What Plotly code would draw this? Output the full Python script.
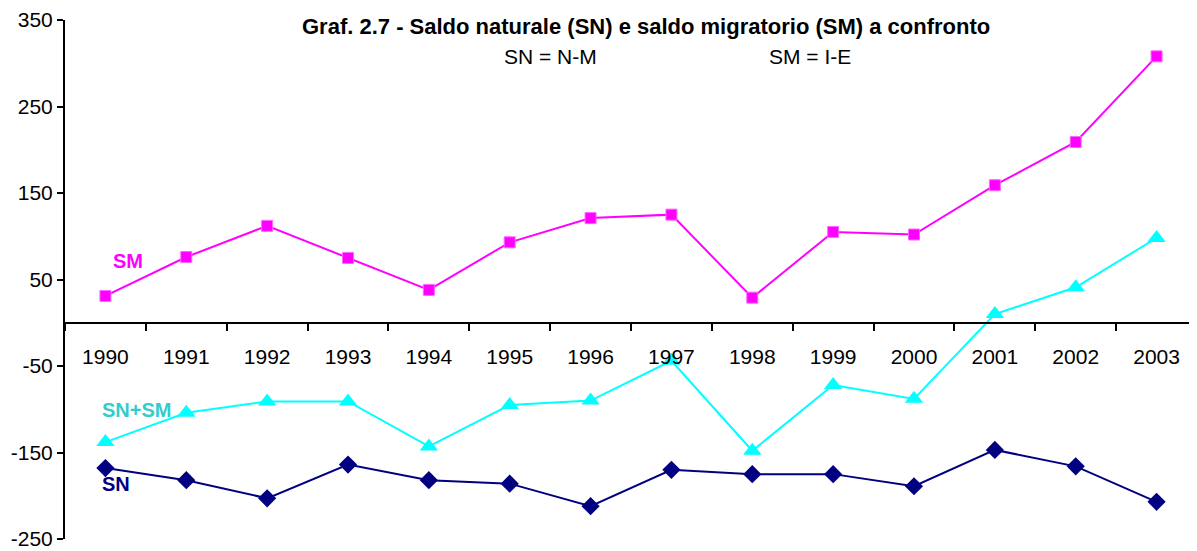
import plotly.graph_objects as go

years = ['1990', '1991', '1992', '1993', '1994', '1995', '1996',
         '1997', '1998', '1999', '2000', '2001', '2002', '2003']
sm = [31, 76, 112, 75, 38, 93, 121, 125, 29, 105, 102, 159, 209, 308]
sn_sm = [-138, -104, -91, -91, -143, -95, -90, -44, -148, -72, -88, 10, 41, 98]
sn = [-168, -182, -203, -164, -182, -186, -212, -170, -175, -175, -189, -147, -166, -207]
y_ticks = [-250, -150, -50, 50, 150, 250, 350]
y_labels = ['-250', '-150', '-50', '50', '150', '250', '350']

font = 'Liberation Sans, Arial, sans-serif'

fig = go.Figure()
fig.add_trace(go.Scatter(
    x=years, y=sm, mode='lines+markers', name='SM',
    line=dict(color='#FF00FF', width=2),
    marker=dict(symbol='square', size=11, color='#FF00FF',
                line=dict(color='#FF66FF', width=1))
))
fig.add_trace(go.Scatter(
    x=years, y=sn_sm, mode='lines+markers', name='SN+SM',
    line=dict(color='#00FFFF', width=2),
    marker=dict(symbol='triangle-up', size=16, color='#00FFFF')
))
fig.add_trace(go.Scatter(
    x=years, y=sn, mode='lines+markers', name='SN',
    line=dict(color='#000080', width=2),
    marker=dict(symbol='diamond', size=14, color='#000080')
))

# page body has an 8px margin, so the figure is sized/offset to compensate
fig.update_layout(
    width=1189, height=543,
    margin=dict(l=57, r=0, t=10, b=12),
    paper_bgcolor='white', plot_bgcolor='white',
    showlegend=False,
    font=dict(family=font, size=20, color='black'),
    xaxis=dict(
        type='category', range=[-0.5, len(years) - 0.5],
        anchor='free', position=250 / 600,
        showline=True, linecolor='black', linewidth=2,
        ticks='outside', tickson='boundaries', ticklen=7, tickwidth=2, tickcolor='black',
        ticklabelstandoff=15, tickangle=0,
        showgrid=False, zeroline=False,
        tickfont=dict(family=font, size=21),
    ),
    yaxis=dict(
        range=[-250, 350], tickvals=y_ticks, ticktext=y_labels,
        ticklabeloverflow='allow',
        showline=True, linecolor='black', linewidth=2,
        ticks='outside', ticklen=6, tickwidth=2, tickcolor='black',
        showgrid=False, zeroline=False,
        tickfont=dict(family=font, size=21),
    ),
)

fig.add_annotation(
    text='<b>Graf. 2.7 - Saldo naturale (SN) e saldo migratorio (SM) a confronto</b>',
    xref='paper', yref='paper', x=0.513, y=0.987, xanchor='center', yanchor='middle',
    showarrow=False, font=dict(family=font, size=22, color='black')
)
fig.add_annotation(text='SN = N-M', xref='paper', yref='paper', x=0.429, y=0.929,
                   yanchor='middle', showarrow=False,
                   font=dict(family=font, size=21, color='black'))
fig.add_annotation(text='SM = I-E', xref='paper', yref='paper', x=0.658, y=0.929,
                   yanchor='middle', showarrow=False,
                   font=dict(family=font, size=21, color='black'))

fig.add_annotation(text='<b>SM</b>', x=0, y=71, xanchor='left', xshift=6,
                   showarrow=False, font=dict(family=font, size=20, color='#FF00FF'))
fig.add_annotation(text='<b>SN+SM</b>', x=0, y=-101, xanchor='left', xshift=-5,
                   showarrow=False, font=dict(family=font, size=20, color='#33CCCC'))
fig.add_annotation(text='<b>SN</b>', x=0, y=-186, xanchor='left', xshift=-5,
                   showarrow=False, font=dict(family=font, size=20, color='#000080'))

fig.write_html('out.html')
